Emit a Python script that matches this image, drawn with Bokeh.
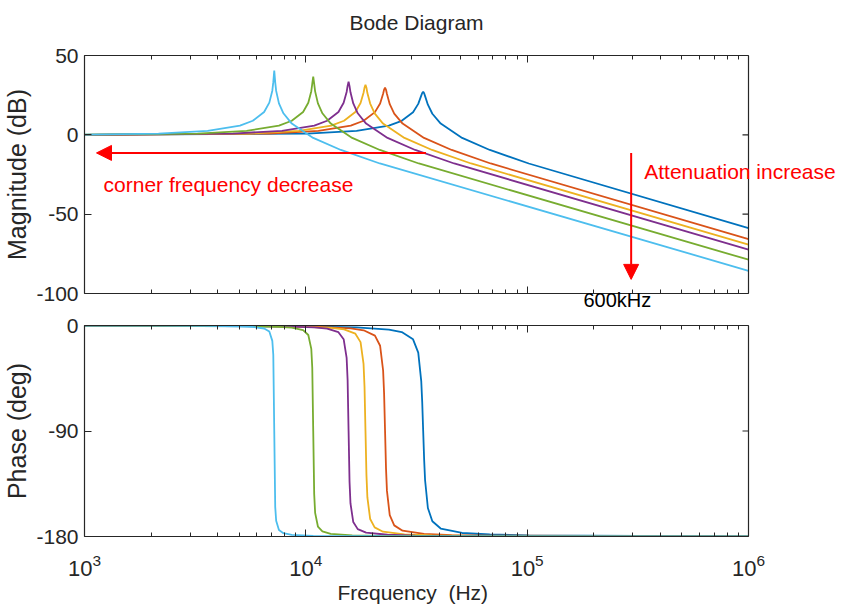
import math
from bokeh.plotting import figure
from bokeh.models import (Range1d, LogAxis, FixedTicker, Arrow,
                          NormalHead, Label, LogTickFormatter, LogTicker,
                          CustomJSTickFormatter, Title, Span)
from bokeh.core.properties import value
from bokeh.layouts import column
from bokeh.embed import file_html
from bokeh.resources import INLINE

# ---------------- data ----------------
decades = [1e3, 1e4, 1e5, 1e6]
minor_mults = [2, 3, 4, 5, 6, 7, 8, 9]
mag_ticks = [50, 0, -50, -100]
phase_ticks = [0, -90, -180]

blue_f = [1000, 10170, 16950, 23730, 27120, 30510, 32205, 33222, 33561, 33900,
          34239, 34578, 35595, 37290, 40680, 50850, 67800, 101700, 1000000]
blue_mag = [0.0, 0.82, 2.50, 5.84, 8.83, 14.24, 19.5, 24.7, 26.4, 27.2,
            26.2, 24.4, 19.0, 13.3, 7.07, -1.94, -9.54, -18.06, -58.8]
blue_phase = [-0.07, -0.83, -1.68, -3.46, -5.58, -11.8, -23.2, -47.4, -65.4, -90,
              -114.3, -132.0, -155.7, -167.0, -173.2, -177.0, -178.3, -179.1, -180]

orange_f = [1000, 6840, 11400, 15960, 18240, 20520, 21660, 22344, 22572, 22800,
            23028, 23256, 23940, 25080, 27360, 34200, 45600, 68400, 1000000]
orange_mag = [0.0, 0.82, 2.50, 5.85, 8.86, 14.3, 19.8, 25.9, 28.5, 29.7,
              28.4, 25.7, 19.3, 13.4, 7.1, -1.94, -9.54, -18.06, -65.7]
orange_phase = [-0.08, -0.6, -1.22, -2.5, -4.07, -8.6, -17.3, -38.4, -57.9, -90,
                -121.9, -141.1, -161.8, -170.5, -175.0, -177.8, -178.8, -179.3, -180]

yellow_f = [1000, 5580, 9300, 13020, 14880, 16740, 17670, 18228, 18414, 18600,
            18786, 18972, 19530, 20460, 22320, 27900, 37200, 55800, 1000000]
yellow_mag = [0.0, 0.82, 2.50, 5.85, 8.87, 14.4, 20.1, 26.5, 29.8, 31.6,
              29.7, 26.3, 19.7, 13.5, 7.1, -1.94, -9.54, -18.06, -69.2]
yellow_phase = [-0.08, -0.49, -0.99, -2.04, -3.3, -7.0, -14.2, -32.8, -52.3, -90,
                -127.4, -146.7, -165.1, -172.2, -175.9, -178.2, -179.0, -179.4, -180]

purple_f = [1000, 4680, 7800, 10920, 12480, 14040, 14820, 15288, 15444, 15600,
            15756, 15912, 16380, 17160, 18720, 23400, 31200, 46800, 1000000]
purple_mag = [0.0, 0.82, 2.50, 5.85, 8.87, 14.4, 20.2, 27.0, 30.8, 33.5,
              30.7, 26.8, 19.8, 13.6, 7.1, -1.94, -9.54, -18.06, -72.3]
purple_phase = [-0.05, -0.4, -0.81, -1.67, -2.7, -5.7, -11.7, -27.7, -46.5, -90,
                -133.2, -151.8, -167.7, -173.7, -176.7, -178.5, -179.2, -179.5, -180]

green_f = [1000, 3240, 5400, 7560, 8640, 9720, 10260, 10584, 10692, 10800,
           10908, 11016, 11340, 11880, 12960, 16200, 21600, 32400, 1000000]
green_mag = [0.07, 0.82, 2.50, 5.85, 8.87, 14.4, 20.2, 27.5, 32.2, 36.7,
             32.1, 27.4, 19.8, 13.6, 7.1, -1.94, -9.54, -18.06, -78.7]
green_phase = [-0.08, -0.28, -0.56, -1.15, -1.86, -3.96, -8.1, -19.9, -36.0, -90,
               -143.7, -159.8, -171.5, -175.6, -177.7, -179.0, -179.4, -179.7, -180]

lightblue_f = [1000, 2160, 3600, 5040, 5760, 6480, 6840, 7056, 7128, 7200,
               7272, 7344, 7560, 7920, 8640, 10800, 14400, 21600, 1000000]
lightblue_mag = [0.17, 0.82, 2.50, 5.85, 8.87, 14.4, 20.3, 27.8, 33.2, 40.5,
                 33.1, 27.7, 19.8, 13.6, 7.1, -1.94, -9.54, -18.06, -85.7]
lightblue_phase = [-0.08, -0.18, -0.36, -0.74, -1.2, -2.55, -5.2, -13.1, -25.0, -90,
                   -154.7, -166.6, -174.5, -177.2, -178.6, -179.4, -179.6, -179.8, -180]

series = [
    (blue_f, blue_mag, blue_phase, "#0072BD"),
    (orange_f, orange_mag, orange_phase, "#D95319"),
    (yellow_f, yellow_mag, yellow_phase, "#EDB120"),
    (purple_f, purple_mag, purple_phase, "#7E2F8E"),
    (green_f, green_mag, green_phase, "#77AC30"),
    (lightblue_f, lightblue_mag, lightblue_phase, "#4DBEEE"),
]

# ---------------- styling ----------------
FONT = "Liberation Sans"
AXC = "#262626"
RED = "#FF0000"
minor_x = [m * d for d in decades[:-1] for m in minor_mults]
W = 841
LEFT = 84
RIGHT = 748
# The plot frames are widened to the page edge (so that the red note can run past
# the box, as in the original); the box itself is drawn from 1e3 to 1e6.
px_per_decade = (RIGHT - LEFT) / math.log10(decades[-1] / decades[0])
x_end = decades[-1] * 10 ** ((W - RIGHT) / px_per_decade)


def x_ticker():
    return FixedTicker(ticks=decades, minor_ticks=minor_x)


def style_axis(ax, show_labels, size="21px"):
    ax.axis_line_color = AXC
    ax.axis_line_width = 1.2
    ax.major_tick_line_color = AXC
    ax.minor_tick_line_color = AXC
    ax.major_tick_in = 7
    ax.major_tick_out = 0
    ax.minor_tick_in = 4
    ax.minor_tick_out = 0
    ax.major_label_text_font = FONT
    ax.major_label_text_color = AXC
    ax.axis_label_text_font = FONT
    ax.axis_label_text_font_style = "normal"
    ax.axis_label_text_color = AXC
    if show_labels:
        ax.major_label_text_font_size = size
        ax.major_label_standoff = 6
    else:
        ax.formatter = CustomJSTickFormatter(code="return ''")
        ax.major_label_text_font_size = "1px"
        ax.major_label_standoff = 0


def make_fig(height, yr, yticks, border_top, border_bottom, ylabel):
    p = figure(width=W, height=height, x_axis_type="log",
               x_range=Range1d(decades[0], x_end), y_range=Range1d(*yr),
               output_backend="svg", toolbar_location=None,
               min_border_left=LEFT, min_border_right=0,
               min_border_top=border_top, min_border_bottom=border_bottom)
    p.xgrid.visible = False
    p.ygrid.visible = False
    p.outline_line_color = None
    p.background_fill_color = "white"
    p.border_fill_color = "white"

    bottom_ax = p.below[0]
    bottom_ax.ticker = x_ticker()
    bottom_ax.bounds = (decades[0], decades[-1])
    left_ax = p.left[0]
    left_ax.ticker = FixedTicker(ticks=yticks, minor_ticks=[])
    left_ax.major_label_overrides = {v: str(v) for v in yticks}
    left_ax.axis_label = ylabel
    left_ax.axis_label_text_font_size = "25px"
    left_ax.axis_label_standoff = 2
    style_axis(left_ax, True)

    top_ax = LogAxis(ticker=x_ticker(), bounds=(decades[0], decades[-1]))
    style_axis(top_ax, False)
    p.add_layout(top_ax, "above")

    # right edge of the box at 1e6 and its inward ticks
    p.add_layout(Span(location=decades[-1], dimension="height",
                      line_color=AXC, line_width=1.2))
    p.ray(x=[decades[-1]] * len(yticks), y=yticks, length=6,
          length_units="screen", angle=math.pi, line_color=AXC, line_width=1.2)
    return p, bottom_ax


# ---------------- title strip ----------------
head = figure(width=W, height=44, x_axis_type="log",
              x_range=Range1d(decades[0], x_end), y_range=Range1d(0, 1),
              output_backend="svg", toolbar_location=None,
              x_axis_location=None, y_axis_location=None,
              min_border_left=LEFT, min_border_right=0,
              min_border_top=0, min_border_bottom=0)
head.outline_line_color = None
head.xgrid.visible = False
head.ygrid.visible = False
head.text(x=[math.sqrt(decades[0] * decades[-1])], y=[0.5], text=["Bode Diagram"],
          text_font=value(FONT), text_font_size="21px", text_color=AXC,
          text_align="center", text_baseline="middle")

# ---------------- magnitude ----------------
top, top_bottom_ax = make_fig(269, (-100, 50), mag_ticks, 11, 20, "Magnitude (dB)")
style_axis(top_bottom_ax, False)
for f, m, ph, c in series:
    top.line(f, m, line_color=c, line_width=1.8)

top.add_layout(Title(text="600kHz", align="left", offset=499, standoff=-13,
                     text_font=FONT, text_font_size="20px",
                     text_font_style="normal", text_color="black"), "below")

top.add_layout(Arrow(x_start=34900, y_start=-11.4, x_end=1133, y_end=-11.4,
                     line_color=RED, line_width=2,
                     end=NormalHead(size=15, fill_color=RED, line_color=RED)))
top.add_layout(Arrow(x_start=2.95e5, y_start=-11.4, x_end=2.95e5, y_end=-91.1,
                     line_color=RED, line_width=2,
                     end=NormalHead(size=15, fill_color=RED, line_color=RED)))
top.add_layout(Label(x=1219, y=-31, text="corner frequency decrease",
                     text_font=FONT, text_font_size="21px", text_color=RED,
                     text_align="left", text_baseline="middle"))
top.add_layout(Label(x=3.38e5, y=-22.8, text="Attenuation increase",
                     text_font=FONT, text_font_size="21px", text_color=RED,
                     text_align="left", text_baseline="middle"))

# ---------------- phase ----------------
bot, bot_bottom_ax = make_fig(298, (-180, 0), phase_ticks, 12, 75, "Phase (deg)")
style_axis(bot_bottom_ax, True, size="22px")
bot_bottom_ax.formatter = LogTickFormatter(ticker=LogTicker(base=10))
bot_bottom_ax.major_label_standoff = 17
bot.add_layout(Title(text="Frequency\u00a0 (Hz)", align="left", offset=253, standoff=0,
                     text_font=FONT, text_font_size="21px",
                     text_font_style="normal", text_color=AXC), "below")
for f, m, ph, c in series:
    bot.line(f, ph, line_color=c, line_width=1.8)

layout = column(head, top, bot, spacing=0)
open("out.html", "w").write(file_html(layout, INLINE))
